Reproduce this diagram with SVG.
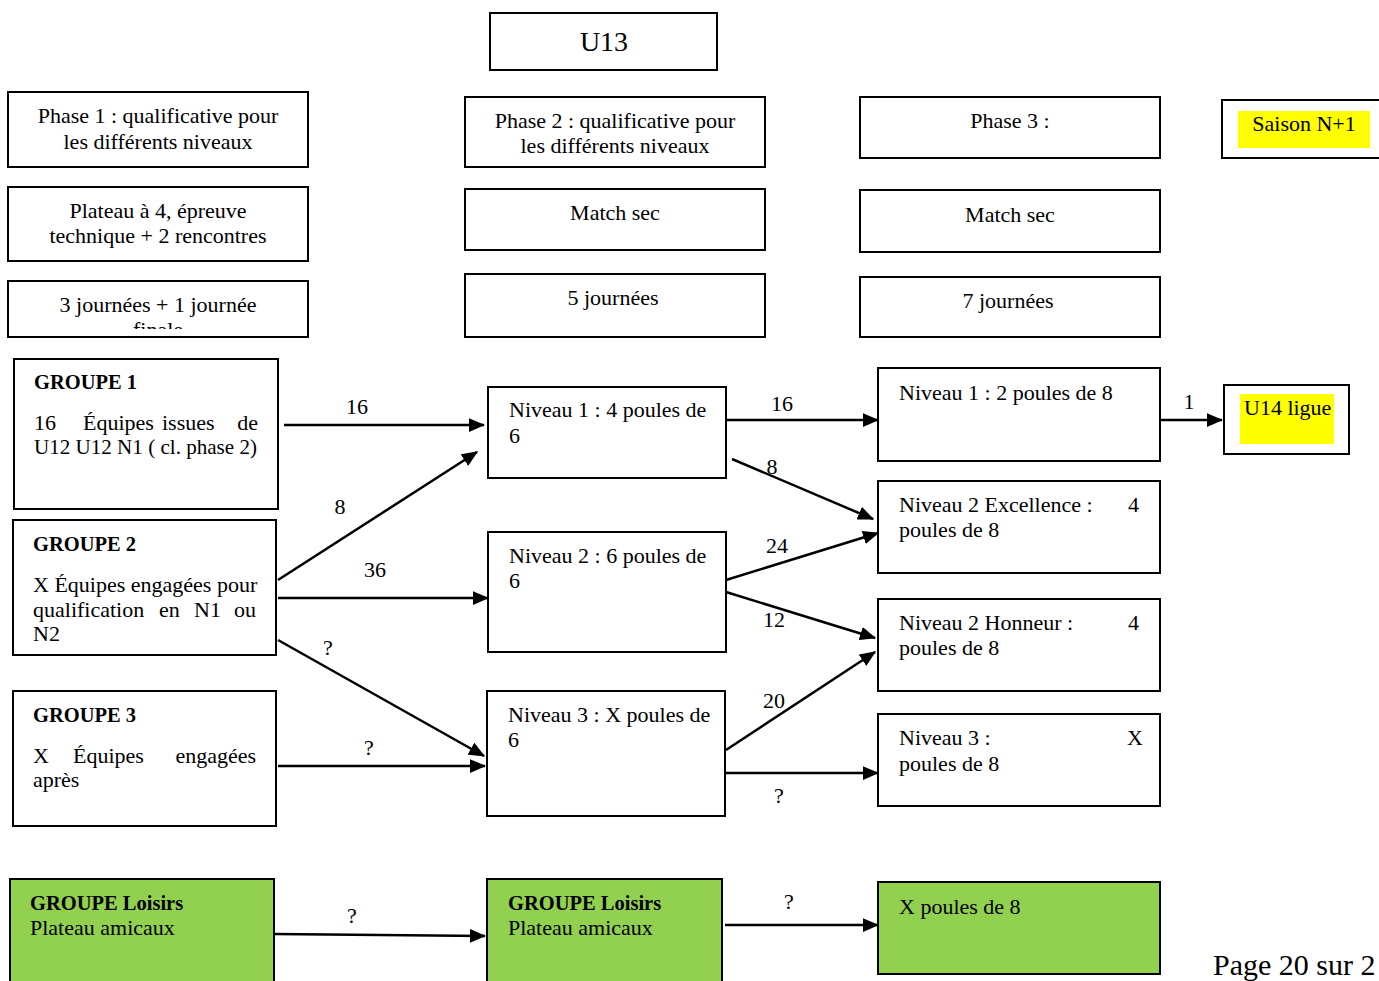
<svg xmlns="http://www.w3.org/2000/svg" width="1379" height="981" viewBox="0 0 1379 981">
<style>
text{font-family:"Liberation Serif","Times New Roman",serif;font-size:22px;fill:#000}
.b{font-weight:bold;font-size:20.5px}
.c{text-anchor:middle}
.e{text-anchor:end}
.box{fill:#fff;stroke:#000;stroke-width:2}
.g{fill:#92D050;stroke:#000;stroke-width:2}
.hl{fill:#ffff00}
.ar{stroke:#000;stroke-width:2.5;fill:none;marker-end:url(#ah)}
</style>
<defs>
<marker id="ah" markerWidth="6.5" markerHeight="5.5" refX="6" refY="2.75" orient="auto" markerUnits="strokeWidth">
<path d="M0,0 L6.5,2.75 L0,5.5 z" fill="#000"/>
</marker>
<clipPath id="clipJ"><rect x="9" y="282" width="298" height="47"/></clipPath>
</defs>
<rect width="1379" height="981" fill="#fff"/>

<g id="u13"><rect class="box" x="490" y="13" width="227" height="57"/><text class="c" x="604" y="51" style="font-size:28px">U13</text></g>

<g id="phase1"><rect class="box" x="8" y="92" width="300" height="75"/><text class="c" x="158" y="123">Phase 1 : qualificative pour</text><text class="c" x="158" y="149">les différents niveaux</text></g>
<g id="plateau"><rect class="box" x="8" y="187" width="300" height="74"/><text class="c" x="158" y="218">Plateau à 4, épreuve</text><text class="c" x="158" y="243">technique + 2 rencontres</text></g>
<g id="journees1"><rect class="box" x="8" y="281" width="300" height="56"/><text class="c" x="158" y="312">3 journées + 1 journée</text><text class="c" x="158" y="337" clip-path="url(#clipJ)">finale</text></g>

<g id="phase2"><rect class="box" x="465" y="97" width="300" height="70"/><text class="c" x="615" y="128">Phase 2 : qualificative pour</text><text class="c" x="615" y="153">les différents niveaux</text></g>
<g id="match2"><rect class="box" x="465" y="189" width="300" height="61"/><text class="c" x="615" y="220">Match sec</text></g>
<g id="journees2"><rect class="box" x="465" y="274" width="300" height="63"/><text class="c" x="613" y="305">5 journées</text></g>

<g id="phase3"><rect class="box" x="860" y="97" width="300" height="61"/><text class="c" x="1010" y="128">Phase 3 :</text></g>
<g id="match3"><rect class="box" x="860" y="190" width="300" height="62"/><text class="c" x="1010" y="222">Match sec</text></g>
<g id="journees3"><rect class="box" x="860" y="277" width="300" height="60"/><text class="c" x="1008" y="308">7 journées</text></g>

<g id="saison"><rect class="box" x="1222" y="100" width="170" height="58"/><rect class="hl" x="1238" y="111" width="132" height="37"/><text class="c" x="1304" y="131">Saison N+1</text></g>

<g id="groupe1"><rect class="box" x="14" y="359" width="264" height="150"/><text class="b" x="34" y="389">GROUPE 1</text><text y="430"><tspan x="34">16</tspan><tspan x="83">Équipes</tspan><tspan x="162">issues</tspan><tspan x="258" class="e">de</tspan></text><text x="34" y="454" textLength="223" lengthAdjust="spacingAndGlyphs">U12 U12 N1 ( cl. phase 2)</text></g>
<g id="groupe2"><rect class="box" x="13" y="520" width="263" height="135"/><text class="b" x="33" y="551">GROUPE 2</text><text x="33" y="592">X Équipes engagées pour</text><text y="617"><tspan x="33">qualification</tspan><tspan x="159">en</tspan><tspan x="194">N1</tspan><tspan x="256" class="e">ou</tspan></text><text x="33" y="641">N2</text></g>
<g id="groupe3"><rect class="box" x="13" y="691" width="263" height="135"/><text class="b" x="33" y="722">GROUPE 3</text><text y="763"><tspan x="33">X</tspan><tspan x="73">Équipes</tspan><tspan x="256" class="e">engagées</tspan></text><text x="33" y="787">après</text></g>

<g id="niv1m"><rect class="box" x="488" y="387" width="238" height="91"/><text x="509" y="417">Niveau 1 : 4 poules de</text><text x="509" y="443">6</text></g>
<g id="niv2m"><rect class="box" x="488" y="532" width="238" height="120"/><text x="509" y="563">Niveau 2 : 6 poules de</text><text x="509" y="588">6</text></g>
<g id="niv3m"><rect class="box" x="487" y="691" width="238" height="125"/><text x="508" y="722">Niveau 3 : X poules de</text><text x="508" y="747">6</text></g>

<g id="niv1r"><rect class="box" x="878" y="368" width="282" height="93"/><text x="899" y="400">Niveau 1 :  2 poules de 8</text></g>
<g id="niv2e"><rect class="box" x="878" y="481" width="282" height="92"/><text x="899" y="512">Niveau 2 Excellence :</text><text x="1128" y="512">4</text><text x="899" y="537">poules de 8</text></g>
<g id="niv2h"><rect class="box" x="878" y="599" width="282" height="92"/><text x="899" y="630">Niveau 2 Honneur :</text><text x="1128" y="630">4</text><text x="899" y="655">poules de 8</text></g>
<g id="niv3r"><rect class="box" x="878" y="714" width="282" height="92"/><text x="899" y="745">Niveau 3 :</text><text x="1127" y="745">X</text><text x="899" y="771">poules de 8</text></g>

<g id="u14"><rect class="box" x="1224" y="385" width="125" height="69"/><rect class="hl" x="1240" y="394" width="94" height="50"/><text x="1244" y="415">U14 ligue</text></g>

<g id="loisirs1"><rect class="g" x="10" y="879" width="264" height="110"/><text class="b" x="30" y="910">GROUPE Loisirs</text><text x="30" y="935">Plateau amicaux</text></g>
<g id="loisirs2"><rect class="g" x="487" y="879" width="235" height="110"/><text class="b" x="508" y="910">GROUPE Loisirs</text><text x="508" y="935">Plateau  amicaux</text></g>
<g id="loisirs3"><rect class="g" x="878" y="882" width="282" height="92"/><text x="899" y="914">X poules de 8</text></g>

<g id="connectors">
<line class="ar" x1="284" y1="425" x2="484" y2="425"/>
<line class="ar" x1="278" y1="580" x2="477" y2="452"/>
<line class="ar" x1="278" y1="598" x2="488" y2="598"/>
<line class="ar" x1="278" y1="640" x2="484" y2="756"/>
<line class="ar" x1="278" y1="766" x2="485" y2="766"/>
<line class="ar" x1="727" y1="420" x2="878" y2="420"/>
<line class="ar" x1="732" y1="459" x2="873" y2="519"/>
<line class="ar" x1="726" y1="580" x2="878" y2="533"/>
<line class="ar" x1="726" y1="592" x2="875" y2="638"/>
<line class="ar" x1="726" y1="750" x2="875" y2="652"/>
<line class="ar" x1="726" y1="773" x2="878" y2="773"/>
<line class="ar" x1="1160" y1="420" x2="1222" y2="420"/>
<line class="ar" x1="274" y1="934" x2="485" y2="936"/>
<line class="ar" x1="725" y1="925" x2="878" y2="925"/>
<text class="c" x="357" y="414">16</text>
<text class="c" x="340" y="514">8</text>
<text class="c" x="375" y="577">36</text>
<text class="c" x="328" y="655">?</text>
<text class="c" x="369" y="755">?</text>
<text class="c" x="782" y="411">16</text>
<text class="c" x="772" y="474">8</text>
<text class="c" x="777" y="553">24</text>
<text class="c" x="774" y="627">12</text>
<text class="c" x="774" y="708">20</text>
<text class="c" x="779" y="803">?</text>
<text class="c" x="1189" y="409">1</text>
<text class="c" x="352" y="923">?</text>
<text class="c" x="789" y="909">?</text>
</g>

<text x="1213" y="975" style="font-size:30px">Page 20 sur 2</text>
</svg>
